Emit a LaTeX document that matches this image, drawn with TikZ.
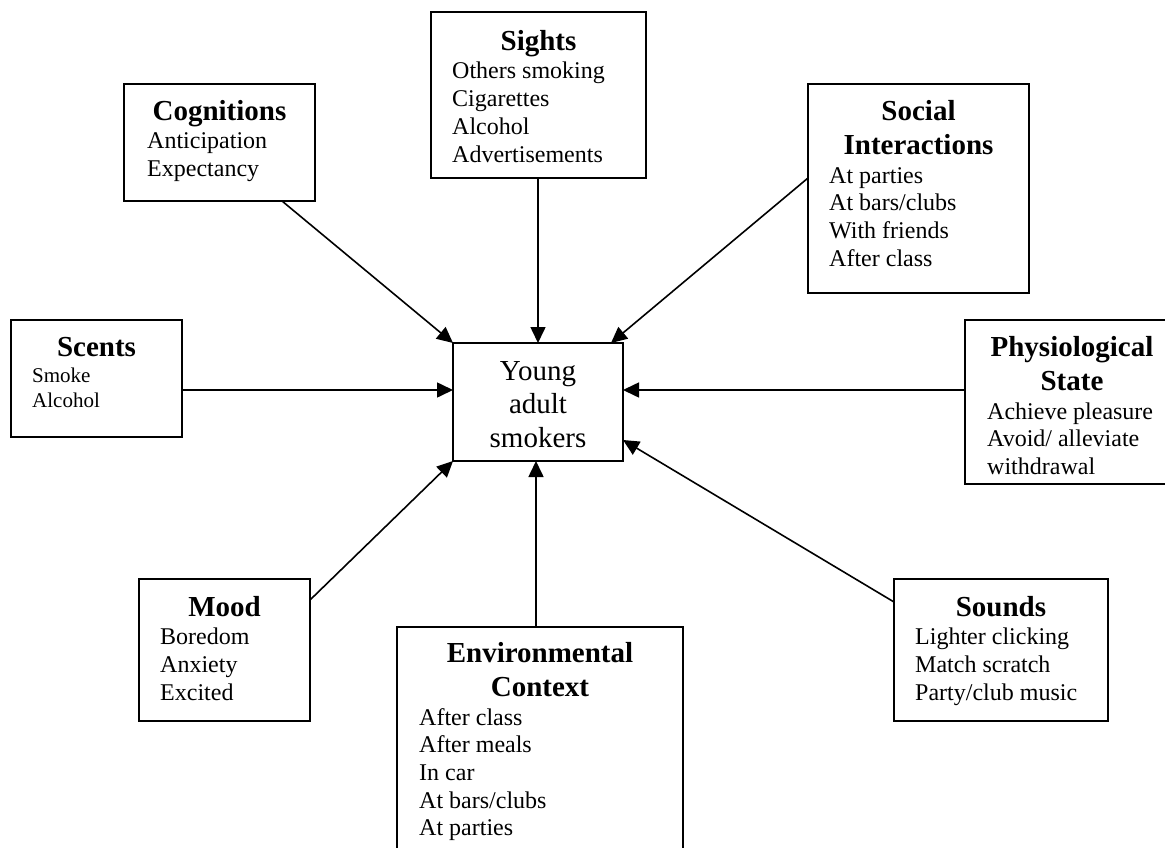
\documentclass[tikz,border=0pt]{standalone}
\usepackage{fontspec}
\setmainfont{Liberation Serif}
\usetikzlibrary{arrows.meta}
\tikzset{
  box/.style={draw=black, line width=1.8pt, inner sep=0pt, outer sep=0pt, anchor=north west},
  item/.style={inner sep=0pt, anchor=base west, font=\fontsize{24}{28}\selectfont},
  smallitem/.style={inner sep=0pt, anchor=base west, font=\fontsize{21}{25}\selectfont},
  head/.style={inner sep=0pt, anchor=base, font=\fontsize{29}{34}\selectfont\bfseries},
  ctext/.style={inner sep=0pt, anchor=base, font=\fontsize{29}{34}\selectfont},
  conn/.style={line width=1.6pt, -{Triangle[length=16pt,width=15pt]}},
}
\begin{document}
\begin{tikzpicture}[x=1pt,y=-1pt]
\path[use as bounding box, fill=white] (0,0) rectangle (1165,848);

% boxes
\node[box, minimum width=215pt, minimum height=166pt] (sig) at (431,12) {};
\node[box, minimum width=191pt, minimum height=117pt] (cog) at (124,84) {};
\node[box, minimum width=221pt, minimum height=209pt] (soc) at (808,84) {};
\node[box, minimum width=171pt, minimum height=117pt] (scn) at (11,320) {};
\node[box, minimum width=170pt, minimum height=118pt] (yas) at (453,343) {};
\node[box, minimum width=214pt, minimum height=164pt] (phy) at (965,320) {};
\node[box, minimum width=171pt, minimum height=142pt] (mood) at (139,579) {};
\node[box, minimum width=286pt, minimum height=240pt] (env) at (397,627) {};
\node[box, minimum width=214pt, minimum height=142pt] (snd) at (894,579) {};

% Sights
\node[head] (sigh) at (538.5,50.5) {Sights};
\node[item] (sig1) at (452,79) {Others smoking};
\node[item] (sig2) at (452,106.7) {Cigarettes};
\node[item] (sig3) at (452,134.4) {Alcohol};
\node[item] (sig4) at (452,162.1) {Advertisements};

% Cognitions
\node[head] (cogh) at (219.5,120.5) {Cognitions};
\node[item] (cog1) at (147,149) {Anticipation};
\node[item] (cog2) at (147,177) {Expectancy};

% Social Interactions
\node[head] (soch1) at (918.5,120.5) {Social};
\node[head] (soch2) at (918.5,154.5) {Interactions};
\node[item] (soc1) at (829,183) {At parties};
\node[item] (soc2) at (829,210.7) {At bars/clubs};
\node[item] (soc3) at (829,238.4) {With friends};
\node[item] (soc4) at (829,266.1) {After class};

% Scents
\node[head] (scnh) at (96.5,356.5) {Scents};
\node[smallitem] (scn1) at (32,382) {Smoke};
\node[smallitem] (scn2) at (32,407) {Alcohol};

% Center
\node[ctext] (yas1) at (538,380) {Young};
\node[ctext] (yas2) at (538,413.5) {adult};
\node[ctext] (yas3) at (538,447) {smokers};

% Physiological State
\node[head] (phyh1) at (1072,356.5) {Physiological};
\node[head] (phyh2) at (1072,390.5) {State};
\node[item] (phy1) at (987,419) {Achieve pleasure};
\node[item] (phy2) at (987,446.7) {Avoid/ alleviate};
\node[item] (phy3) at (987,474.4) {withdrawal};

% Mood
\node[head] (moodh) at (224.5,616.5) {Mood};
\node[item] (mood1) at (160,644) {Boredom};
\node[item] (mood2) at (160,672) {Anxiety};
\node[item] (mood3) at (160,700) {Excited};

% Environmental Context
\node[head] (envh1) at (540,662.5) {Environmental};
\node[head] (envh2) at (540,696.5) {Context};
\node[item] (env1) at (419,725) {After class};
\node[item] (env2) at (419,752.7) {After meals};
\node[item] (env3) at (419,780.4) {In car};
\node[item] (env4) at (419,808.1) {At bars/clubs};
\node[item] (env5) at (419,835.8) {At parties};

% Sounds
\node[head] (sndh) at (1001,616.5) {Sounds};
\node[item] (snd1) at (915,644) {Lighter clicking};
\node[item] (snd2) at (915,672) {Match scratch};
\node[item] (snd3) at (915,700) {Party/club music};

% connector end points
\coordinate (sigA) at ([xshift=-0.5pt]sig.south);
\coordinate (cogA) at ([xshift=158pt]cog.south west);
\coordinate (socA) at ([yshift=-94pt]soc.north west);
\coordinate (scnA) at ([yshift=-70pt]scn.north east);
\coordinate (phyA) at ([yshift=-70pt]phy.north west);
\coordinate (moodA) at ([yshift=-21pt]mood.north east);
\coordinate (envA) at ([xshift=139pt]env.north west);
\coordinate (sndA) at ([yshift=-23pt]snd.north west);

\coordinate (yasSoc) at ([xshift=-12pt]yas.north east);
\coordinate (yasL) at ([yshift=12pt]yas.west);
\coordinate (yasR) at ([yshift=12pt]yas.east);
\coordinate (yasEnv) at ([xshift=-2pt]yas.south);
\coordinate (yasSnd) at ([yshift=-38pt]yas.east);

% connectors
\draw[conn] (sigA) -- (sigA |- yas.north);
\draw[conn] (cogA) -- (yas.north west);
\draw[conn] (socA) -- (yasSoc);
\draw[conn] (scnA) -- (yasL);
\draw[conn] (phyA) -- (yasR);
\draw[conn] (moodA) -- (yas.south west);
\draw[conn] (envA) -- (yasEnv);
\draw[conn] (sndA) -- (yasSnd);
\end{tikzpicture}
\end{document}
